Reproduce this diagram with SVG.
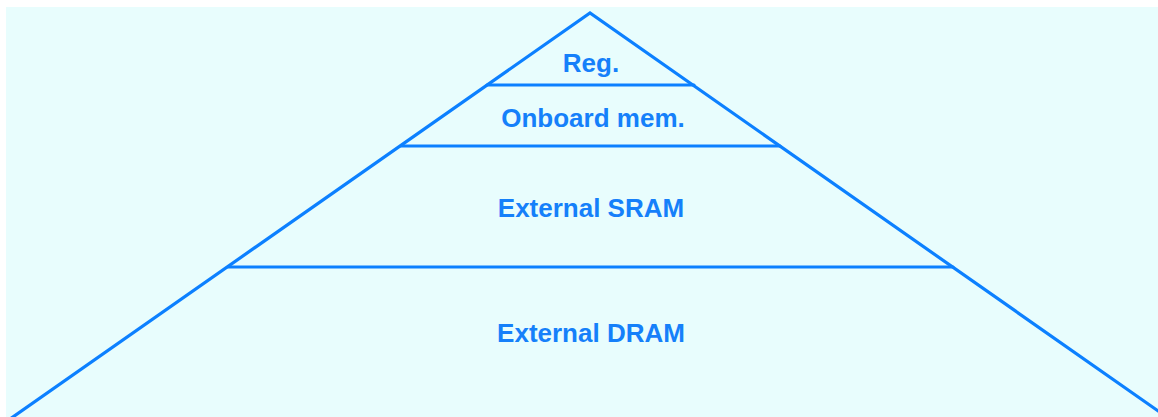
<svg xmlns="http://www.w3.org/2000/svg" width="1158" height="417" viewBox="0 0 1158 417">
<style>
.ln{stroke:#0c80ff;stroke-width:3.2;fill:none;stroke-linecap:round}
.lb{font-family:"Liberation Sans",Arial,sans-serif;font-weight:bold;font-size:26px;fill:#1580fa;text-anchor:middle}
</style>
<rect x="0" y="0" width="1158" height="417" fill="#ffffff"/>
<rect x="6" y="7" width="1152" height="410" fill="#e8fdfd"/>
<g id="connectors">
<polyline class="ln" points="10,419 590,13 1161,413"/>
<line class="ln" x1="487" y1="85" x2="694" y2="85"/>
<line class="ln" x1="401" y1="146" x2="780" y2="146"/>
<line class="ln" x1="228" y1="267" x2="953" y2="267"/>
</g>
<g id="reg"><text class="lb" x="591" y="72">Reg.</text></g>
<g id="onboard"><text class="lb" x="593" y="127">Onboard mem.</text></g>
<g id="sram"><text class="lb" x="591" y="217">External SRAM</text></g>
<g id="dram"><text class="lb" x="591" y="342">External DRAM</text></g>
</svg>
